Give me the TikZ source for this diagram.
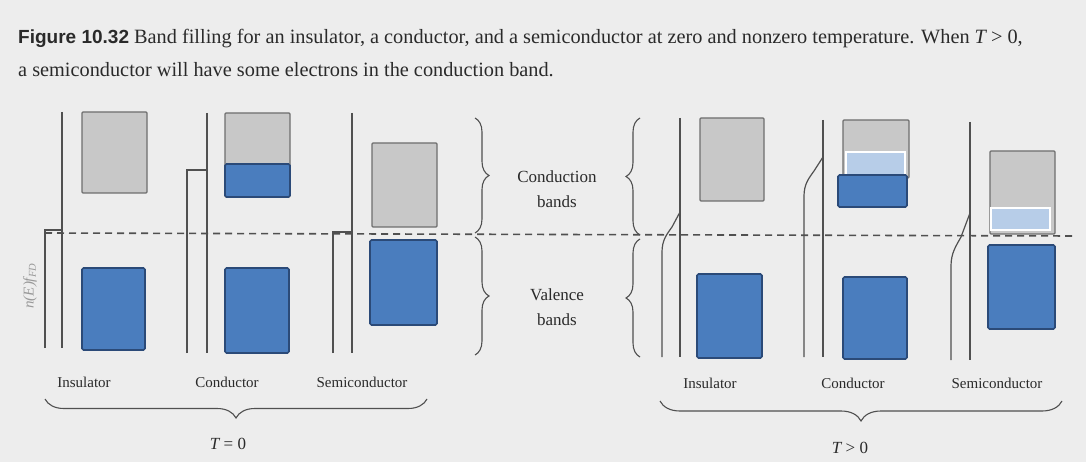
\documentclass[tikz,border=0pt]{standalone}
\usepackage{fontspec}
\setmainfont{Liberation Serif}
\newfontfamily\capsans{Liberation Sans}
\usetikzlibrary{decorations.pathreplacing}
\definecolor{bg}{HTML}{EDEDED}
\definecolor{bandgray}{HTML}{C8C8C8}
\definecolor{bandgrayedge}{HTML}{6E6E6E}
\definecolor{bandblue}{HTML}{4A7DBE}
\definecolor{bandblueedge}{HTML}{2B4A78}
\definecolor{lightblue}{HTML}{B7CDE8}
\definecolor{inkgray}{HTML}{505050}
\definecolor{textgray}{HTML}{2A2A2A}
\begin{document}
\begin{tikzpicture}[x=1pt,y=-1pt,
  emptyband/.style={fill=bandgray, draw=bandgrayedge, line width=1.3pt, rounded corners=1pt},
  fullband/.style={fill=bandblue, draw=bandblueedge, line width=1.6pt, rounded corners=1.5pt},
  partband/.style={fill=lightblue, draw=white, line width=1.6pt},
  axisline/.style={draw=inkgray, line width=1.4pt},
  fermi/.style={draw=inkgray, line width=1.2pt},
  fermilevel/.style={draw=inkgray, line width=1.6pt, dash pattern=on 7pt off 5pt},
  bracedeco/.style={decorate, decoration={brace, amplitude=#1}, draw=inkgray, line width=1.1pt},
  bracedeco/.default=15pt,
  lbl/.style={font=\fontsize{15}{17}\selectfont, text=textgray, inner sep=0pt},
  bandlbl/.style={font=\fontsize{17}{25}\selectfont, text=textgray, align=center, inner sep=0pt},
  templbl/.style={font=\fontsize{17}{20}\selectfont, text=textgray, inner sep=0pt},
  caption/.style={font=\fontsize{20.3}{22}\selectfont, text=textgray, anchor=base west, inner sep=0pt}
]
\useasboundingbox (0,0) rectangle (1086,462);
\fill[bg] (0,0) rectangle (1086,462);

% caption
\node[caption] (cap1) at (18,44) {{\capsans\bfseries\fontsize{19}{22}\selectfont Figure 10.32}\ Band filling for an insulator, a conductor, and a semiconductor at zero and nonzero temperature. When {\itshape T}~>~0,};
\node[caption] (cap2) at (18,77) {a semiconductor will have some electrons in the conduction band.};

% Fermi level
\draw[fermilevel] (45,233) -- (1075,236);

% y label
\node[rotate=90, text=black!40, font=\fontsize{15}{17}\selectfont] (ylab) at (30,286) {\itshape n(E)f\textsubscript{FD}};

% ---------- T = 0 ----------
% Insulator
\draw[axisline] (62,112) -- (62,348);
\draw[fermi] (45,348) -- (45,230) -- (62,230);
\draw[emptyband] (82,112) rectangle (147,193);
\draw[fullband] (82,268) rectangle (145,350);
% Conductor
\draw[axisline] (207,113) -- (207,353);
\draw[fermi] (187,353) -- (187,170) -- (207,170);
\draw[emptyband] (225,113) rectangle (290,197);
\draw[fullband] (225,164) rectangle (290,197);
\draw[fullband] (225,268) rectangle (289,353);
% Semiconductor
\draw[axisline] (352,113) -- (352,353);
\draw[fermi] (333,353) -- (333,232) -- (352,232);
\draw[emptyband] (372,143) rectangle (437,227);
\draw[fullband] (370,240) rectangle (437,325);

\node[lbl] (ins0) at (84,382) {Insulator};
\node[lbl] (con0) at (227,382) {Conductor};
\node[lbl] (sem0) at (362,382) {Semiconductor};
\draw[bracedeco=19pt] (427,399) -- (45,399);
\node[templbl] (t0) at (228,444) {{\itshape T} = 0};

% band braces
\draw[bracedeco=14pt] (475,118) -- (475,233);
\draw[bracedeco=14pt] (475,237) -- (475,355);
\node[bandlbl] (cb) at (557,189) {Conduction\\bands};
\node[bandlbl] (vb) at (557,307) {Valence\\bands};
\draw[bracedeco=14pt] (640,235) -- (640,118);
\draw[bracedeco=14pt] (640,357) -- (640,239);

% ---------- T > 0 ----------
% Insulator
\draw[axisline] (680,118) -- (680,357);
\draw[fermi] (662,357) -- (662,252) .. controls (662,240) and (667,234) .. (672,227) -- (680,212);
\draw[emptyband] (700,118) rectangle (764,201);
\draw[fullband] (697,274) rectangle (762,358);
% Conductor
\draw[axisline] (823,120) -- (823,357);
\draw[fermi] (804,357) -- (804,196) .. controls (804,184) and (809,178) .. (814,171) -- (823,157);
\draw[emptyband] (843,120) rectangle (909,178);
\draw[partband] (846,152) rectangle (905,177);
\draw[fullband] (838,175) rectangle (907,207);
\draw[fullband] (843,277) rectangle (907,359);
% Semiconductor
\draw[axisline] (970,122) -- (970,360);
\draw[fermi] (951,360) -- (951,266) .. controls (951,253) and (956,246) .. (961,237) -- (970,213);
\draw[emptyband] (990,151) rectangle (1055,234);
\draw[partband] (991,208) rectangle (1050,230);
\draw[fullband] (988,245) rectangle (1055,329);

\node[lbl] (ins1) at (710,383) {Insulator};
\node[lbl] (con1) at (853,383) {Conductor};
\node[lbl] (sem1) at (997,383) {Semiconductor};
\draw[bracedeco=20pt] (1062,401) -- (660,401);
\node[templbl] (t1) at (850,448) {{\itshape T} > 0};
\end{tikzpicture}
\end{document}
